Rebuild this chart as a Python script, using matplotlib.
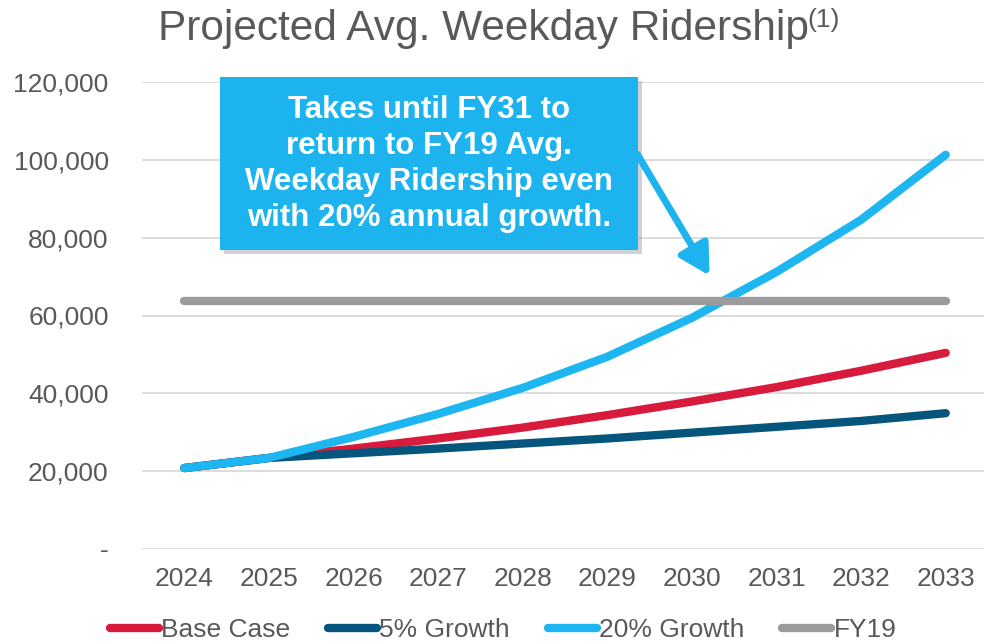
import matplotlib
matplotlib.use("Agg")
import matplotlib.pyplot as plt
from matplotlib.patches import FancyArrowPatch, Rectangle
import numpy as np

plt.rcParams['font.family'] = ['Liberation Sans', 'DejaVu Sans']

# data
years = ['2024', '2025', '2026', '2027', '2028', '2029', '2030', '2031', '2032', '2033']
base_case = [20800, 23400, 25800, 28400, 31200, 34400, 37900, 41600, 45800, 50400]
growth_5 = [20800, 23400, 24600, 25800, 27100, 28400, 29900, 31400, 32900, 34900]
growth_20 = [20800, 23400, 28800, 34700, 41400, 49400, 59400, 71200, 84600, 101300]
fy19 = [63600, 63600, 63600, 63600, 63600, 63600, 63600, 63600, 63600, 63600]

y_ticks = [0, 20000, 40000, 60000, 80000, 100000, 120000]
y_labels = ['-', '20,000', '40,000', '60,000', '80,000', '100,000', '120,000']

series = [
    ('Base Case', base_case, '#D81B3C'),
    ('5% Growth', growth_5, '#06557C'),
    ('20% Growth', growth_20, '#1DB6F1'),
    ('FY19', fy19, '#9C9C9E'),
]

text_col = '#595959'

fig = plt.figure(figsize=(9.84, 6.44), dpi=100)
ax = fig.add_axes([142 / 984, 95 / 644, 846 / 984, 467 / 644])

x = np.arange(len(years))
for name, vals, col in series:
    ax.plot(x, vals, color=col, lw=6, solid_capstyle='round', label=name, zorder=3)

ax.set_xlim(-0.5, len(years) - 0.5)
ax.set_ylim(0, 120000)
ax.set_yticks(y_ticks)
ax.set_yticklabels(y_labels)
ax.set_xticks(x)
ax.set_xticklabels(years)
ax.tick_params(axis='both', length=0, labelsize=19, colors=text_col)
ax.tick_params(axis='y', pad=24)
ax.tick_params(axis='x', pad=13)
ax.yaxis.grid(True, color='#D9D9D9', lw=1.3, zorder=0)
for s in ax.spines.values():
    s.set_visible(False)

# title with superscript
fig.text(158 / 984, 1 - 40 / 644, 'Projected Avg. Weekday Ridership',
         fontsize=30.5, color=text_col, va='baseline', ha='left')
fig.text(807 / 984, 1 - 27 / 644, '(1)', fontsize=19, color=text_col,
         va='baseline', ha='left')

# legend below the axis
leg = fig.legend(loc='center', bbox_to_anchor=(503 / 984, 1 - 630 / 644), ncol=4,
                 frameon=False, fontsize=19, handlelength=1.85, handletextpad=0.08,
                 columnspacing=1.45, borderaxespad=0)
for t in leg.get_texts():
    t.set_color(text_col)
for h in leg.get_lines():
    h.set_linewidth(6)
    h.set_solid_capstyle('round')

# callout box with shadow
bx0, by0, bx1, by1 = 220, 77, 638, 250
shadow = Rectangle(((bx0 + 4) / 984, 1 - (by1 + 4) / 644), (bx1 - bx0) / 984,
                   (by1 - by0) / 644, transform=fig.transFigure,
                   facecolor='#9a9a9a', edgecolor='none', alpha=0.45, zorder=4)
box = Rectangle((bx0 / 984, 1 - by1 / 644), (bx1 - bx0) / 984, (by1 - by0) / 644,
                transform=fig.transFigure, facecolor='#1DB3EE', edgecolor='none',
                zorder=5)
fig.patches.extend([shadow, box])
fig.text((bx0 + bx1) / 2 / 984, 1 - 164 / 644,
         'Takes until FY31 to\nreturn to FY19 Avg.\nWeekday Ridership even\nwith 20% annual growth.',
         ha='center', va='center', color='white', fontsize=22.5, fontweight='bold',
         linespacing=1.25, zorder=6)

arrow = FancyArrowPatch((636 / 984, 1 - 152 / 644), (711 / 984, 1 - 278 / 644),
                        transform=fig.transFigure,
                        arrowstyle='-|>,head_length=18,head_width=10',
                        color='#1DB3EE', lw=5, zorder=5)
fig.patches.append(arrow)

fig.savefig('out.png', dpi=100)
